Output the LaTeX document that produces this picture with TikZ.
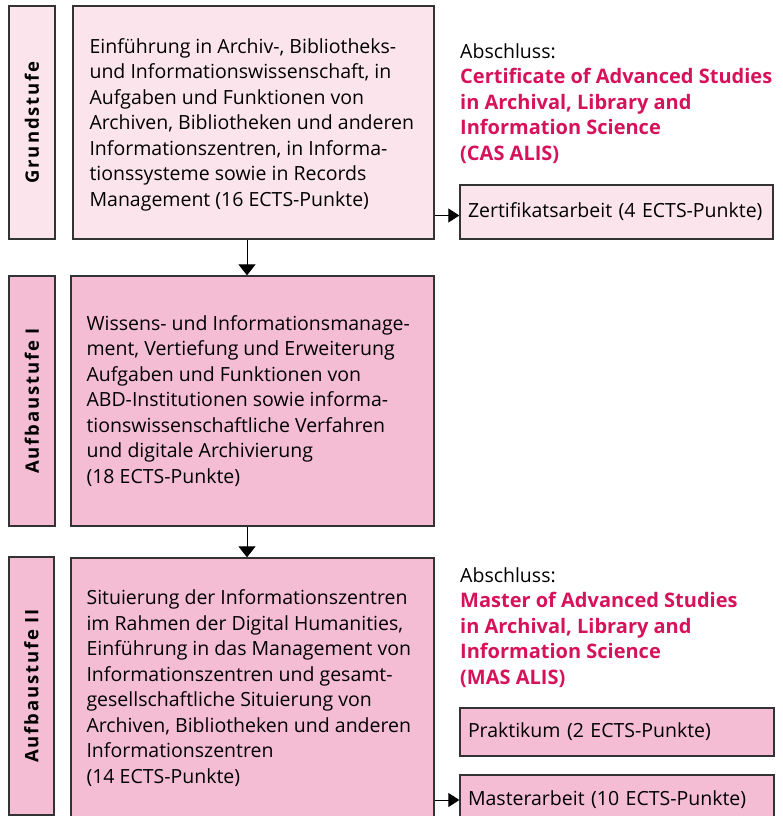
\documentclass[tikz,border=0pt]{standalone}
\usepackage{fontspec}
\setmainfont{Open Sans}
\usetikzlibrary{arrows.meta,calc}
\definecolor{pinkA}{HTML}{FBE4EC}
\definecolor{pinkB}{HTML}{F4BDD4}
\definecolor{mag}{HTML}{D6125B}
\definecolor{edge}{HTML}{333333}
\newcommand\mg[1]{\textcolor{mag}{\fontsize{20}{25.5}\selectfont\bfseries #1}}
\begin{document}
\begin{tikzpicture}[x=1pt,y=-1pt,
  box/.style={draw=edge, line width=1.3pt, rectangle, inner sep=0pt},
  stagelabel/.style={box, rotate=90, font=\fontsize{18.5}{20}\selectfont\bfseries\addfontfeature{LetterSpace=10}},
  bodytext/.style={anchor=west, inner sep=0pt, align=left, font=\fontsize{19.5}{25.5}\selectfont},
  sidetext/.style={anchor=north west, inner sep=0pt, align=left, font=\fontsize{19.5}{25.5}\selectfont},
  smallbox/.style={box, font=\fontsize{19.5}{21}\selectfont},
  arrdown/.style={draw=black, line width=1pt, -{Triangle[length=11pt,width=17pt]}},
  arrright/.style={draw=black, line width=1pt, -{Triangle[length=11pt,width=14pt]}}
]
\useasboundingbox (0,0) rectangle (783,816);

% Grundstufe
\node[stagelabel, fill=pinkA, minimum width=233pt, minimum height=46pt] (g) at (32,122.5) {Grundstufe};
\node[box, fill=pinkA, minimum width=361pt, minimum height=233pt] (b1) at (253.5,122.5) {};
\node[bodytext] (t1) at ([xshift=17pt,yshift=-2pt]b1.west) {Einführung in Archiv-, Bibliotheks-\\und Informationswissenschaft, in\\Aufgaben und Funktionen von\\Archiven, Bibliotheken und anderen\\Informationszentren, in Informa-\\tionssysteme sowie in Records\\Management (16 ECTS-Punkte)};

% Aufbaustufe I
\node[stagelabel, fill=pinkB, minimum width=250pt, minimum height=46pt] (a1) at (32,401) {Aufbaustufe I};
\node[box, fill=pinkB, minimum width=363pt, minimum height=250pt] (b2) at (252.5,401) {};
\node[bodytext] (t2) at ([xshift=16pt]b2.west) {Wissens- und Informationsmanage-\\ment, Vertiefung und Erweiterung\\Aufgaben und Funktionen von\\ABD-Institutionen sowie informa-\\tionswissenschaftliche Verfahren\\und digitale Archivierung\\(18 ECTS-Punkte)};

% Aufbaustufe II
\node[stagelabel, fill=pinkB, minimum width=258pt, minimum height=45pt] (a2) at (31.5,686) {Aufbaustufe II};
\node[box, fill=pinkB, minimum width=363pt, minimum height=264pt] (b3) at (252.5,690) {};
\node[bodytext] (t3) at ([xshift=16pt,yshift=2pt]b3.west) {Situierung der Informationszentren\\im Rahmen der Digital Humanities,\\Einführung in das Management von\\Informationszentren und gesamt-\\gesellschaftliche Situierung von\\Archiven, Bibliotheken und anderen\\Informationszentren\\(14 ECTS-Punkte)};

% right side, CAS
\node[sidetext] (cas) at (460,43) {Abschluss:\\\mg{Certificate of Advanced Studies}\\\mg{in Archival, Library and}\\\mg{Information Science}\\\mg{(CAS ALIS)}};
\node[smallbox, fill=pinkA, minimum width=313pt, minimum height=54pt, text width=297pt, align=left] (z) at (616.5,212) {\mbox{Zertifikatsarbeit (4 ECTS-Punkte)}};

% right side, MAS
\node[sidetext] (mas) at (460,567) {Abschluss:\\\mg{Master of Advanced Studies}\\\mg{in Archival, Library and}\\\mg{Information Science}\\\mg{(MAS ALIS)}};
\node[smallbox, fill=pinkB, minimum width=314pt, minimum height=48pt, text width=298pt, align=left] (p) at (617,732) {\mbox{Praktikum (2 ECTS-Punkte)}};
\node[smallbox, fill=pinkB, minimum width=314pt, minimum height=50pt, text width=298pt, align=left] (m) at (617,800) {\mbox{Masterarbeit (10 ECTS-Punkte)}};

% connectors
\coordinate (ax) at (247,0);
\draw[arrdown] (ax |- b1.south) -- (ax |- b2.north);
\draw[arrdown] (ax |- b2.south) -- (ax |- b3.north);
\draw[arrright] (b1.east |- 0,215.5) -- (z.west |- 0,215.5);
\draw[arrright] (b3.east |- m.west) -- (m.west);
\end{tikzpicture}
\end{document}
